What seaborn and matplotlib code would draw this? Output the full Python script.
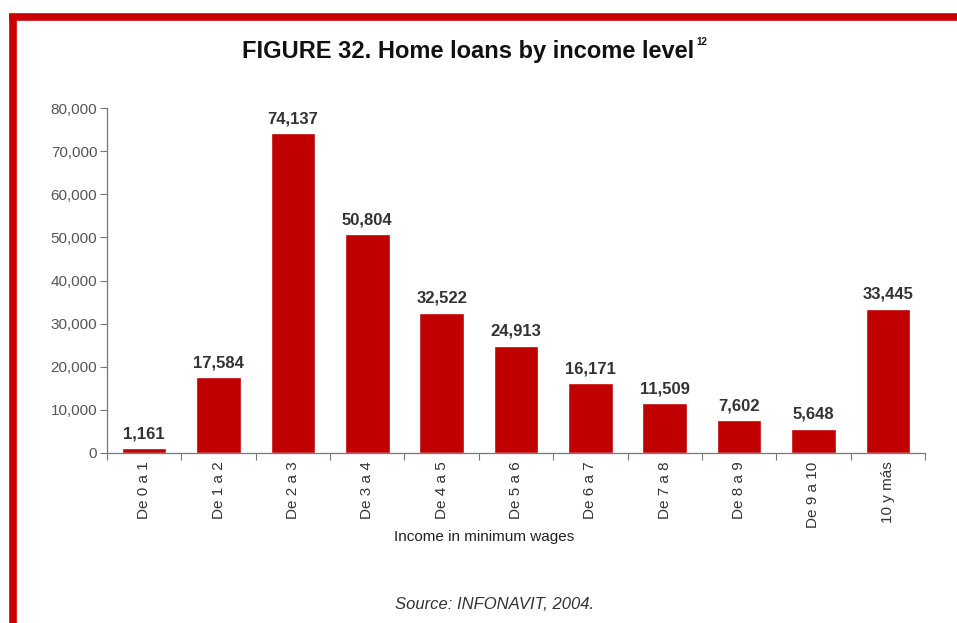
import matplotlib
matplotlib.use("Agg")
import matplotlib.pyplot as plt
from matplotlib.lines import Line2D
import seaborn as sns
import pandas as pd

categories = ["De 0 a 1", "De 1 a 2", "De 2 a 3", "De 3 a 4", "De 4 a 5", "De 5 a 6",
              "De 6 a 7", "De 7 a 8", "De 8 a 9", "De 9 a 10", "10 y más"]
loans = [1161, 17584, 74137, 50804, 32522, 24913, 16171, 11509, 7602, 5648, 33445]
y_ticks = [0, 10000, 20000, 30000, 40000, 50000, 60000, 70000, 80000]

sns.set_theme(style="white")
plt.rcParams["font.family"] = ["Liberation Sans", "DejaVu Sans"]

df = pd.DataFrame({"cat": categories, "loans": loans})

fig = plt.figure(figsize=(9.57, 6.23), dpi=100)
ax = fig.add_axes([0.1118, 0.2729, 0.8548, 0.5537])
sns.barplot(data=df, x="cat", y="loans", color="#C00000", width=0.6,
            saturation=1, ax=ax)

ax.set_ylim(0, 80000)
ax.set_xlim(-0.5, len(categories) - 0.5)
ax.set_yticks(y_ticks)
ax.set_yticklabels([f"{v:,}" for v in y_ticks], color="#555555", fontsize=11)
ax.set_xticks(range(len(categories)))
ax.set_xticklabels(categories, rotation=90, color="#333333", fontsize=11)
ax.tick_params(axis="x", length=0, pad=6)
ax.tick_params(axis="y", length=5, width=0.8, color="#777777", left=True, pad=2)
# boundary ticks along the category axis
ax.set_xticks([i - 0.5 for i in range(len(categories) + 1)], minor=True)
ax.tick_params(axis="x", which="minor", length=5, width=0.8, color="#777777", bottom=True)

for s in ["top", "right"]:
    ax.spines[s].set_visible(False)
for s in ["left", "bottom"]:
    ax.spines[s].set_color("#777777")
    ax.spines[s].set_linewidth(0.9)

ax.set_xlabel("")
ax.set_ylabel("")

for i, v in enumerate(loans):
    ax.text(i, v + 1600, f"{v:,}", ha="center", va="bottom", fontsize=12,
            fontweight="bold", color="#333333")

fig.text(0.489, 0.918, "FIGURE 32. Home loans by income level", ha="center", va="center",
         fontsize=17, fontweight="bold", color="#111111")
fig.text(0.728, 0.932, "12", ha="left", va="center", fontsize=7,
         fontweight="bold", color="#111111")
fig.text(0.506, 0.138, "Income in minimum wages", ha="center", va="center",
         fontsize=11, color="#222222")
fig.text(0.517, 0.03, "Source: INFONAVIT, 2004.", ha="center", va="center",
         fontsize=12, style="italic", color="#333333")

# red frame along the top and left
fig.add_artist(Line2D([0.009, 1.0], [0.972, 0.972], transform=fig.transFigure,
                      color="#CC0000", linewidth=5.5, solid_capstyle="butt"))
fig.add_artist(Line2D([0.014, 0.014], [0.0, 0.975], transform=fig.transFigure,
                      color="#CC0000", linewidth=5.5, solid_capstyle="butt"))

fig.savefig("out.png", dpi=100, facecolor="white")
